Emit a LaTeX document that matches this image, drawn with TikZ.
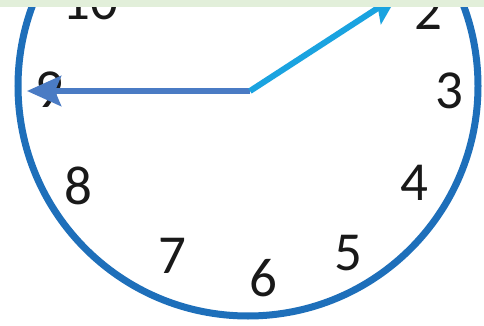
\documentclass[tikz,border=0pt]{standalone}
\usepackage{fontspec}
\setmainfont{Carlito}
\usetikzlibrary{arrows.meta}
\definecolor{rim}{HTML}{1E6FBA}
\definecolor{minhand}{HTML}{4A7BC4}
\definecolor{hrhand}{HTML}{1AA3E0}
\definecolor{band}{HTML}{E2EFDA}
\begin{document}
\begin{tikzpicture}[x=1pt,y=-1pt,
  num/.style={inner sep=0pt,font=\fontsize{55}{55}\selectfont,text=black!90},
  handline/.style={line width=6pt,line cap=butt}]
\useasboundingbox (0,0) rectangle (484,326);
\begin{scope}
\clip (0,0) rectangle (484,326);
\fill[white] (0,0) rectangle (484,326);
\draw[rim,line width=7pt] (248,86) circle (230);
\node[num] (n10) at (90,2) {10};
\node[num] (n2) at (428,12) {2};
\node[num] (n3) at (449,91) {3};
\node[num] (n4) at (414,183) {4};
\node[num] (n5) at (348,253) {5};
\node[num] (n6) at (263,278) {6};
\node[num] (n7) at (172,256) {7};
\node[num] (n8) at (78,186) {8};
\node[num] (n9) at (49,90) {9};
\coordinate (ctr) at (250,91);
\coordinate (mtip) at (27,91);
\coordinate (htip) at (398,-5);
\draw[handline,minhand,-{Stealth[length=34pt,width=30pt,inset=6pt]}] (ctr) -- (mtip);
\draw[handline,hrhand,-{Stealth[length=30pt,width=30pt,inset=6pt]}] (ctr) -- (htip);
\fill[band] (0,0) rectangle (484,7);
\end{scope}
\end{tikzpicture}
\end{document}
